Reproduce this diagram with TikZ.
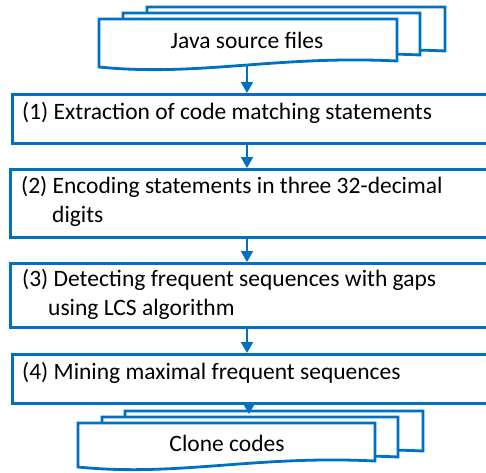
\documentclass[tikz,border=0pt]{standalone}
\usepackage{fontspec}
\setmainfont{Carlito}
\usetikzlibrary{arrows.meta}
\definecolor{myblue}{RGB}{0,112,192}
\newcommand{\docshape}[4]{% left, top, right, right-bottom
  \draw[docst] (#1,#2) -- (#3,#2) -- (#3,#4)
    .. controls ({#3-120},{#4-6}) and ({#1+100},{#4+16}) .. (#1,{#4+6}) -- cycle;}
\begin{document}
\begin{tikzpicture}[x=1pt,y=-1pt,
  boxst/.style={draw=myblue, line width=3.4pt, fill=white, rectangle, inner sep=0pt, anchor=north west},
  docst/.style={draw=myblue, line width=2.8pt, fill=white, line join=miter},
  arr/.style={draw=myblue, line width=2.2pt, -{Triangle[length=11pt,width=12pt]}},
  lbl/.style={font=\fontsize{23.5}{28.5}\selectfont, anchor=base west, inner sep=0pt, align=left, text=black},
  doctxt/.style={font=\fontsize{23.5}{28.5}\selectfont, anchor=base, inner sep=0pt, text=black}]
\useasboundingbox (0,0) rectangle (486,472);
\clip (0,0) rectangle (486,472);
\fill[white] (0,0) rectangle (486,472);
\coordinate (ax) at (247,0);
% top document stack
\docshape{147}{7}{445}{51}
\docshape{123}{13}{420}{55}
\docshape{99}{19}{397}{61}
\node[doctxt] (javatxt) at (247,48) {Java source files};
\coordinate (jbot) at (247,66);
% process boxes
\node[boxst, minimum width=490pt, minimum height=49pt] (b1) at (11,93) {};
\node[boxst, minimum width=490pt, minimum height=68pt] (b2) at (9,168) {};
\node[boxst, minimum width=490pt, minimum height=64pt] (b3) at (9,262) {};
\node[boxst, minimum width=490pt, minimum height=49pt] (b4) at (11,353) {};
\node[lbl] (t1) at (22,119) {(1) Extraction of code matching statements};
\node[lbl] (t2) at (21,222) {(2) Encoding statements in three 32-decimal\\\hspace*{31pt}digits};
\node[lbl] (t3) at (22,315) {(3) Detecting frequent sequences with gaps\\\hspace*{26pt}using LCS algorithm};
\node[lbl] (t4) at (22,379) {(4) Mining maximal frequent sequences};
% bottom document stack
\docshape{125}{411}{423}{451}
\docshape{102}{417}{398}{457}
\docshape{78}{423}{375}{461}
\node[doctxt] (clonetxt) at (227,451) {Clone codes};
\coordinate (ctop) at (249,414);
% connectors
\draw[arr] (jbot) -- (b1.north -| ax);
\draw[arr] (b1.south -| ax) -- (b2.north -| ax);
\draw[arr] (b2.south -| ax) -- (b3.north -| ax);
\draw[arr] (b3.south -| ax) -- (b4.north -| ax);
\draw[arr] (b4.south -| ctop) -- (ctop);
\end{tikzpicture}
\end{document}
